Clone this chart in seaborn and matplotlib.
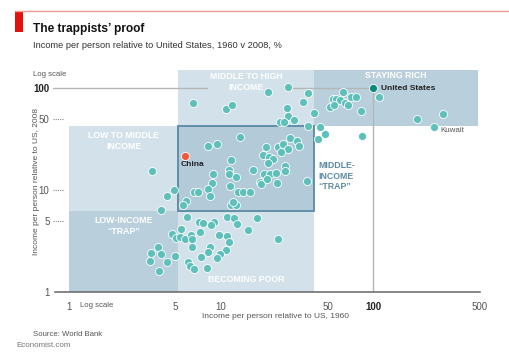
import matplotlib
matplotlib.use("Agg")
import matplotlib.pyplot as plt
from matplotlib.patches import Rectangle
import pandas as pd
import seaborn as sns

# income per person relative to US (%), 1960 v 2008
x1960 = [6.56, 10.7, 11.8, 20.4, 27.4, 37.3, 34.7, 26.9, 27.3, 24.4, 25.9, 29.9, 40.7,
         62.7, 53.9, 56.8, 60.3, 64.9, 67.6, 71.7, 76.3, 51.7, 54.9, 83.2, 108.7, 194, 286,
         37.3, 44.6, 48.3, 43.3, 83.8,
         13.3, 9.43, 8.19, 19.8, 18.9, 20.7, 22.0, 23.8, 25.5, 28.3, 31.7, 32.4, 27.6, 24.7,
         20.3, 26.1, 26.4, 19.1, 21.0, 22.9, 18.0, 18.4, 19.9, 23.1, 16.1, 36.5, 11.7, 11.3,
         11.3, 8.88, 12.6, 8.70, 11.5, 8.26, 6.63, 7.03, 8.47, 13.0, 14.0, 15.5, 5.88, 5.66,
         11.6, 12.5, 12.0,
         3.53, 4.43, 4.90, 4.03,
         5.94, 7.18, 7.60, 8.94, 8.61, 10.9, 12.1, 12.7, 5.47, 7.26, 4.78, 5.05, 5.37, 5.76,
         6.34, 6.43, 9.72, 11.0, 11.2, 6.48, 8.42, 8.16, 10.8, 9.89, 9.38, 7.43, 3.88, 3.47,
         4.03, 4.96, 3.42, 4.41, 6.09, 6.29, 8.13, 6.61, 3.90, 15.1, 17.3, 23.8]
y2008 = [71.3, 63.1, 67.8, 90.9, 103, 89.9, 73.4, 63.8, 52.9, 46.7, 47.1, 48.6, 57.7,
         92.4, 78.9, 78.0, 76.8, 71.3, 67.8, 82.2, 82.6, 64.8, 68.3, 60.1, 81.3, 50.0, 56.4,
         42.2, 41.7, 35.5, 32.0, 34.3,
         33.5, 28.3, 27.1, 26.3, 22.4, 21.1, 20.4, 26.7, 28.4, 32.7, 30.6, 27.3, 25.6, 23.9,
         18.4, 17.4, 15.5, 14.4, 14.6, 14.8, 12.1, 11.4, 12.9, 11.9, 15.8, 12.3, 19.7, 15.8,
         14.5, 14.4, 13.4, 11.9, 11.1, 10.2, 9.67, 9.56, 8.77, 9.52, 9.56, 9.52, 7.89, 7.21,
         7.10, 7.14, 7.63,
         15.5, 8.83, 9.98, 6.34,
         5.41, 4.92, 4.75, 4.89, 4.54, 5.44, 5.33, 4.69, 4.20, 3.93, 3.73, 3.41, 3.48, 3.35,
         3.62, 3.31, 3.65, 3.55, 3.13, 2.80, 2.75, 2.50, 2.58, 2.36, 2.18, 2.22, 2.79, 2.43,
         2.40, 2.28, 2.04, 2.00, 1.97, 1.81, 1.74, 1.68, 1.61, 4.05, 5.39, 3.35]

us = (100, 100)
china = (5.82, 21.7)
kuwait = (251, 41.5)

# zone boundaries (% of US income)
x_low, x_high, x_max = 5.23, 40.8, 483
y_low, y_high, y_max = 6.3, 42.7, 151

xticks = [1, 5, 10, 50, 100, 500]
yticks = [1, 5, 10, 50, 100]

LIGHT = "#d3e2ea"
DARK = "#b9d0dc"
TRAP = "#b3cad8"
TRAP_EDGE = "#5a8aa5"
DOT = "#5fc0bb"

sns.set_style("white")
plt.rcParams["font.family"] = ["Liberation Sans", "DejaVu Sans"]

df = pd.DataFrame({"x1960": x1960 + [kuwait[0]], "y2008": y2008 + [kuwait[1]]})

fig = plt.figure(figsize=(5.09, 3.62), dpi=100)
ax = fig.add_axes([55 / 509, 1 - 292.3 / 362, 425 / 509, 222.3 / 362])
ax.set_xscale("log")
ax.set_yscale("log")
ax.set_xlim(0.813, 500)
ax.set_ylim(1, y_max)

# shaded zones
ax.add_patch(Rectangle((x_low, 1), x_high - x_low, y_max - 1, color=LIGHT, lw=0, zorder=0))
ax.add_patch(Rectangle((1, y_low), x_low - 1, y_high - y_low, color=LIGHT, lw=0, zorder=0))
ax.add_patch(Rectangle((1, 1), x_low - 1, y_low - 1, color=DARK, lw=0, zorder=0))
ax.add_patch(Rectangle((x_high, y_high), x_max - x_high, y_max - y_high, color=DARK, lw=0, zorder=0))
ax.add_patch(Rectangle((x_low, y_low), x_high - x_low, y_high - y_low, facecolor=TRAP,
                       edgecolor=TRAP_EDGE, lw=1.3, zorder=0.5))

# reference lines through the US
ax.plot([0.79, us[0]], [us[1], us[1]], color="#b5b5b5", lw=1, zorder=1, clip_on=False)
ax.plot([us[0], us[0]], [1, us[1]], color="#b5b5b5", lw=1, zorder=1)

sns.scatterplot(data=df, x="x1960", y="y2008", ax=ax, s=34, color=DOT,
                edgecolor="white", linewidth=0.6, zorder=3, legend=False)
ax.scatter([china[0]], [china[1]], s=34, color="#ef5a3c", edgecolor="white", linewidth=0.6, zorder=4)
ax.scatter([us[0]], [us[1]], s=34, color="#0a8a7c", edgecolor="white", linewidth=0.6, zorder=4)

ax.annotate("United States", us, xytext=(5.5, 0), textcoords="offset points",
            va="center", fontsize=6, fontweight="bold", color="#222222")
ax.annotate("Kuwait", kuwait, xytext=(4, -2.7), textcoords="offset points",
            va="center", fontsize=5.8, color="#555555")
ax.annotate("China", china, xytext=(-3, -6.5), textcoords="offset points",
            va="center", fontsize=6, fontweight="bold", color="#222222")

# zone labels
lab = dict(color="white", fontsize=6.3, fontweight="bold", ha="center", va="center",
           linespacing=1.25, zorder=2)
ax.text(14.6, 115, "MIDDLE TO HIGH\nINCOME",
        bbox=dict(facecolor=LIGHT, edgecolor="none", pad=1), **lab)
ax.text(140, 132, "STAYING RICH", **lab)
ax.text(2.29, 30.4, "LOW TO MIDDLE\nINCOME", **lab)
ax.text(2.29, 4.47, "LOW-INCOME\n\u201cTRAP\u201d", **lab)
ax.text(14.6, 1.32, "BECOMING POOR", **lab)
ax.text(43.8, 13.8, "MIDDLE-\nINCOME\n\u201cTRAP\u201d", color=TRAP_EDGE, fontsize=6.3,
        fontweight="bold", ha="left", va="center", linespacing=1.25)

# axes styling
for side in ["left", "right", "top"]:
    ax.spines[side].set_visible(False)
ax.spines["bottom"].set_color("#666666")
ax.spines["bottom"].set_linewidth(1.1)

ax.set_xticks(xticks)
ax.set_xticklabels([str(t) for t in xticks])
ax.set_yticks(yticks)
ax.set_yticklabels([str(t) for t in yticks])
ax.minorticks_off()
ax.tick_params(axis="x", length=3, width=0.8, color="#666666", pad=4, labelsize=7, labelcolor="#555555")
ax.tick_params(axis="y", length=0, pad=4, labelsize=7, labelcolor="#555555")
for lbl in ax.get_xticklabels() + ax.get_yticklabels():
    if lbl.get_text() == "100":
        lbl.set_fontweight("bold")
        lbl.set_color("#222222")

# dotted y tick marks
ytrans = ax.get_yaxis_transform()
for t in [5, 10, 50]:
    ax.plot([-0.004, 0.021], [t, t], transform=ytrans, color="#888888", lw=0.8,
            ls=(0, (1, 1)), clip_on=False)

ax.set_xlabel("Income per person relative to US, 1960", fontsize=6, color="#555555")
ax.set_ylabel("Income per person relative to US, 2008", fontsize=6, color="#555555")
ax.xaxis.set_label_coords(0.518, -0.092)
ax.yaxis.set_label_coords(-0.036, 0.5)

ax.text(0.059, -0.058, "Log scale", transform=ax.transAxes, fontsize=5.6, color="#555555", va="center")

# header and footer
fig.add_artist(plt.Line2D([15 / 509, 1], [1 - 10.7 / 362] * 2, color="#f29b93", lw=1))
fig.add_artist(Rectangle((15 / 509, 1 - 32.3 / 362), 7.5 / 509, 21.5 / 362,
                         transform=fig.transFigure, color="#e3120b", lw=0))
fig.text(33 / 509, 1 - 32 / 362, "The trappists\u2019 proof", fontsize=8.6, fontweight="bold",
         color="#111111", va="baseline")
fig.text(33 / 509, 1 - 45 / 362, "Income per person relative to United States, 1960 v 2008, %",
         fontsize=6.7, color="#333333", va="center")
fig.text(33 / 509, 1 - 75 / 362, "Log scale", fontsize=5.6, color="#555555", va="center")
fig.text(33 / 509, 1 - 335 / 362, "Source: World Bank", fontsize=5.6, color="#555555", va="center")
fig.text(16 / 509, 1 - 345.5 / 362, "Economist.com", fontsize=5.8, color="#777777", va="center")

fig.savefig("out.png", dpi=100)
